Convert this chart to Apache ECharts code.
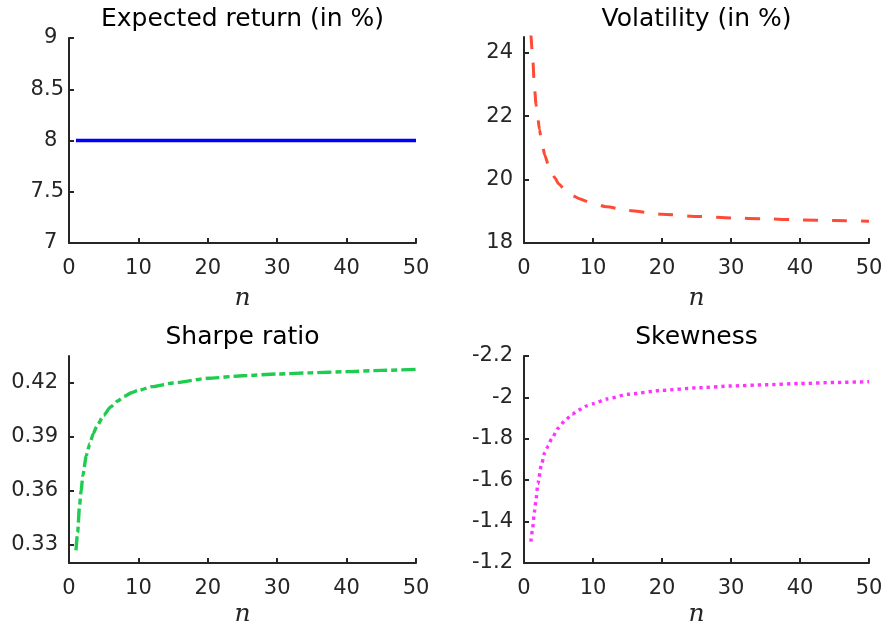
<!DOCTYPE html>
<html>
<head>
<meta charset="utf-8">
<script src="https://cdn.jsdelivr.net/npm/echarts@6/dist/echarts.min.js"></script>
<style>
html,body{margin:0;padding:0;background:#fff;}
#chart{width:889px;height:631px;}
</style>
</head>
<body>
<div id="chart"></div>
<script>
// ---- data ----
const titles = ['Expected return (in %)', 'Volatility (in %)', 'Sharpe ratio', 'Skewness'];
const xTicks = [0, 10, 20, 30, 40, 50];

const retN = [1, 10, 20, 30, 40, 50];
const retVal = [8, 8, 8, 8, 8, 8];

const volN = [1, 1.25, 1.5, 1.75, 2, 2.25, 2.5, 2.75, 3, 3.5, 4, 4.5, 5, 6, 7, 8, 9, 10, 12, 15, 20, 25, 30, 35, 40, 45, 50];
const volVal = [24.6, 23.9, 22.95, 22.36, 21.94, 21.58, 21.25, 21.0, 20.78, 20.48, 20.22, 20.05, 19.87, 19.66, 19.5, 19.4, 19.32, 19.25, 19.14, 19.03, 18.91, 18.84, 18.79, 18.76, 18.73, 18.71, 18.69];

const shN = [1, 1.25, 1.5, 1.75, 2, 2.5, 3, 3.5, 4, 5, 6, 7, 8, 9, 10, 12, 15, 20, 25, 30, 35, 40, 45, 50];
const shVal = [0.327, 0.337, 0.351, 0.3604, 0.3687, 0.3798, 0.3863, 0.3919, 0.3959, 0.402, 0.4067, 0.41, 0.4126, 0.4146, 0.4159, 0.418, 0.42, 0.4226, 0.424, 0.425, 0.4257, 0.4263, 0.427, 0.4276];

const skN = [1, 1.25, 1.5, 1.75, 2, 2.5, 3, 3.5, 4, 5, 6, 7, 8, 9, 10, 12, 15, 20, 25, 30, 35, 40, 45, 50];
const skVal = [-1.303, -1.366, -1.445, -1.507, -1.583, -1.67, -1.733, -1.765, -1.801, -1.853, -1.891, -1.919, -1.94, -1.958, -1.969, -1.992, -2.015, -2.034, -2.046, -2.055, -2.061, -2.067, -2.072, -2.076];

const retTicks = [7, 7.5, 8, 8.5, 9];
const volTicks = [18, 20, 22, 24];
const shTicks = [0.33, 0.36, 0.39, 0.42];
const skTicks = [-2.2, -2, -1.8, -1.6, -1.4, -1.2];

// ---- chart ----
const AX = '#262626';
const TICKFONT = 'DejaVu Sans';
const pair = (xs, ys) => xs.map((x, i) => [x, ys[i]]);

const grids = [
  {left: 69, top: 38, width: 347, height: 205},
  {left: 524, top: 37, width: 345, height: 206},
  {left: 69, top: 356, width: 347, height: 207},
  {left: 524, top: 356, width: 345, height: 207}
];

function xAxisFor(g, gap) {
  return {
    type: 'value', gridIndex: g, min: 0, max: 50, interval: 10,
    axisLine: {onZero: false, lineStyle: {color: AX, width: 2}},
    axisTick: {inside: true, length: 5, lineStyle: {color: AX, width: 2}},
    axisLabel: {margin: 15, color: AX, fontSize: 21, fontFamily: TICKFONT, customValues: xTicks},
    splitLine: {show: false},
    name: 'n', nameLocation: 'middle', nameGap: gap,
    nameTextStyle: {fontFamily: 'DejaVu Serif', fontStyle: 'italic', fontSize: 25, color: AX}
  };
}
function yAxisFor(g, min, max, ticks, fmt, margin, inverse) {
  return {
    type: 'value', gridIndex: g, min: min, max: max, inverse: !!inverse,
    axisLine: {show: true, onZero: false, lineStyle: {color: AX, width: 2}},
    axisTick: {show: true, inside: true, length: 5, lineStyle: {color: AX, width: 2}, customValues: ticks},
    axisLabel: {margin: margin, color: AX, fontSize: 21, fontFamily: TICKFONT, customValues: ticks, formatter: fmt},
    splitLine: {show: false}
  };
}

const chart = echarts.init(document.getElementById('chart'), null, {renderer: 'canvas'});
const titleY = [19.5, 19.8, 337.5, 337.5];
const titleX = [242.5, 696.5, 242.5, 696.5];

chart.setOption({
  animation: false,
  backgroundColor: '#ffffff',
  grid: grids,
  xAxis: [xAxisFor(0, 43), xAxisFor(1, 43), xAxisFor(2, 39), xAxisFor(3, 39)],
  yAxis: [
    yAxisFor(0, 7, 9, retTicks, v => Number.isInteger(v) ? v + ' ' : v.toFixed(1), 5),
    yAxisFor(1, 18, 24.5, volTicks, v => String(v), 11),
    yAxisFor(2, 0.32, 0.435, shTicks, v => v.toFixed(2), 11),
    yAxisFor(3, -2.2, -1.2, skTicks, v => String(Math.round(v * 10) / 10), 11, true)
  ],
  graphic: titles.map((t, i) => ({
    type: 'text', x: titleX[i], y: titleY[i],
    style: {text: t, align: 'center', verticalAlign: 'middle', fill: '#000', font: '25px "DejaVu Sans"'}
  })),
  series: [
    {type: 'line', xAxisIndex: 0, yAxisIndex: 0, data: pair(retN, retVal), showSymbol: false,
     lineStyle: {color: '#0000ff', width: 3.4, type: 'solid'}},
    {type: 'line', xAxisIndex: 1, yAxisIndex: 1, data: pair(volN, volVal), showSymbol: false, clip: true,
     smooth: 0.2, smoothMonotone: 'x',
     lineStyle: {color: '#ff4b36', width: 3, type: [15, 14], cap: 'butt'}},
    {type: 'line', xAxisIndex: 2, yAxisIndex: 2, data: pair(shN, shVal), showSymbol: false,
     smooth: 0.2, smoothMonotone: 'x',
     lineStyle: {color: '#1fcc4f', width: 3.4, type: [14, 4, 6, 4], cap: 'butt'}},
    {type: 'line', xAxisIndex: 3, yAxisIndex: 3, data: pair(skN, skVal), showSymbol: false,
     smooth: 0.2, smoothMonotone: 'x',
     lineStyle: {color: '#ff33ff', width: 3.4, type: [3.3, 4], cap: 'butt'}}
  ]
});
</script>
</body>
</html>
